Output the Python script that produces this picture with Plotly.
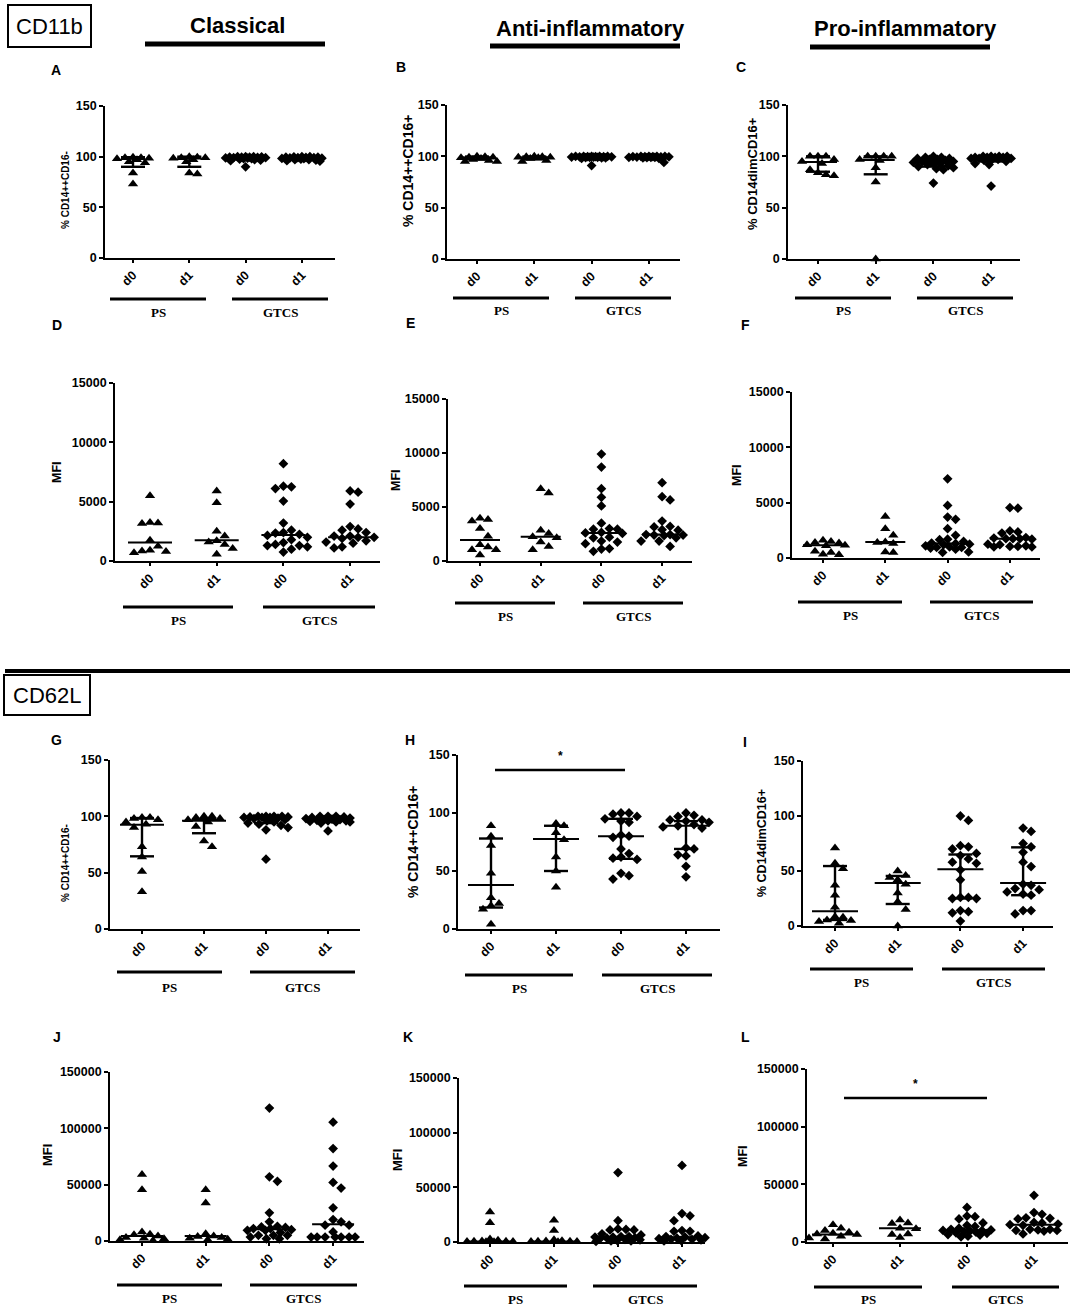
import numpy as np
import plotly.graph_objects as go

W, H = 1074, 1309

CATS = ["d0", "d1", "d0", "d1"]
GROUPS = ["PS", "GTCS"]

# ---------------- data ----------------
A_PS_D0 = [99.5, 99, 99, 98.5, 98, 97, 95, 94, 84, 73]
A_PS_D1 = [100, 99.5, 99, 99, 98.5, 97, 95, 84, 83]
A_GTCS_D0 = [100, 100, 100, 99.8, 99.6, 99.5, 99.5, 99.3, 99, 99, 98.8, 98.5, 98, 98, 97.5, 97, 96.5, 96, 90]
A_GTCS_D1 = [100, 100, 99.8, 99.5, 99.5, 99.2, 99, 99, 98.8, 98.5, 98.2, 98, 97.5, 97, 97, 96.5, 96, 95.5]
A_MED = [98, 99, 99, 99]
A_Q1 = [90, 90, 97.5, 97.5]
A_Q3 = [99.5, 100, 99.8, 99.8]

B_PS_D0 = [100, 99.5, 99, 99, 98.5, 98, 97, 96, 95, 95]
B_PS_D1 = [100, 99.5, 99.5, 99, 99, 98.5, 98, 96, 95]
B_GTCS_D0 = [100, 100, 100, 100, 100, 99.8, 99.8, 99.6, 99.5, 99.5, 99.3, 99.2, 99, 99, 98.8, 98.5, 98.5, 98, 91]
B_GTCS_D1 = [100, 100, 100, 100, 99.8, 99.8, 99.6, 99.5, 99.5, 99.3, 99, 99, 99, 98.8, 98.5, 98, 94]
B_MED = [99, 99, 99.5, 99.5]
B_Q1 = [97, 97, 99, 99]
B_Q3 = [99.8, 99.8, 100, 100]

C_PS_D0 = [100, 100, 100, 97, 95, 93, 87, 84, 82, 81]
C_PS_D1 = [100, 100, 100, 100, 97, 96, 89, 75, 0]
C_GTCS_D0 = [100, 99, 99, 98, 98, 97, 97, 96, 95, 95, 94, 93, 93, 92, 91, 90, 89, 88, 87, 74]
C_GTCS_D1 = [100, 100, 100, 100, 99, 99, 99, 99, 98, 98, 98, 97, 97, 96, 95, 93, 92, 71]
C_MED = [94.5, 96.5, 94, 98]
C_Q1 = [85, 82.5, 90, 95]
C_Q3 = [100, 100, 97.5, 99.5]

D_PS_D0 = [5500, 3250, 3150, 3200, 1750, 1250, 800, 850, 900, 700]
D_PS_D1 = [5900, 4900, 2500, 2100, 1700, 1600, 1400, 1050, 560]
D_GTCS_D0 = [8200, 6300, 6250, 6100, 5050, 3200, 2600, 2400, 2350, 2250, 2150, 2000, 1800, 1550, 1400, 1300, 1300, 1200, 1000, 750]
D_GTCS_D1 = [5900, 5800, 4800, 2900, 2700, 2600, 2400, 2100, 2100, 2000, 2000, 1900, 1700, 1600, 1500, 1200, 1100]
D_MED = [1550, 1750, 2200, 2000]

E_PS_D0 = [3950, 3850, 3700, 3000, 2300, 1500, 1300, 1050, 1050, 550]
E_PS_D1 = [6700, 6300, 2850, 2550, 2250, 2150, 1750, 1350, 1050]
E_GTCS_D0 = [9900, 8700, 6700, 5900, 5100, 3500, 3000, 2950, 2950, 2650, 2600, 2550, 2200, 2150, 1850, 1750, 1600, 1150, 1100, 900]
E_GTCS_D1 = [7250, 5950, 5650, 3700, 3200, 3150, 2900, 2850, 2450, 2450, 2400, 2400, 2350, 2150, 1850, 1850, 1350]
E_MED = [1950, 2250, 2600, 2450]

F_PS_D0 = [1600, 1500, 1400, 1350, 1200, 1150, 1100, 600, 500, 350, 300]
F_PS_D1 = [3750, 2650, 2050, 1450, 1400, 1300, 550, 500]
F_GTCS_D0 = [7150, 4750, 3700, 3500, 2650, 2050, 1700, 1650, 1500, 1350, 1300, 1250, 1200, 1100, 1000, 950, 950, 900, 800, 550, 500]
F_GTCS_D1 = [4550, 4500, 2450, 2350, 2250, 1850, 1800, 1750, 1750, 1750, 1700, 1250, 1200, 1100, 1050, 1050, 1000, 1000]
F_MED = [1150, 1450, 1300, 1750]

G_PS_D0 = [99, 99, 98, 97, 95, 93, 90, 73, 64, 51, 33]
G_PS_D1 = [100, 100, 99, 98, 97, 95, 91, 78, 73]
G_GTCS_D0 = [100, 100, 100, 100, 99.5, 99.5, 99, 99, 99, 98.5, 98, 97, 96, 95, 94, 93, 92, 90, 88, 62]
G_GTCS_D1 = [100, 100, 100, 99.5, 99, 98.5, 98, 97.5, 97, 97, 96.5, 96, 96, 95.5, 95, 95, 94, 87]
G_MED = [92.5, 96, 99, 97]
G_Q1 = [64.5, 85, 94, 95]
G_Q3 = [98.5, 97.5, 100, 99.5]

H_PS_D0 = [89, 80, 72, 48, 27, 22, 20, 17, 4]
H_PS_D1 = [91, 89, 83, 77, 62, 50, 36]
H_GTCS_D0 = [100, 100, 99, 97, 95, 93, 92, 81, 80, 79, 69, 65, 62, 61, 60, 48, 46, 43]
H_GTCS_D1 = [100, 98, 97, 94, 94, 93, 92, 90, 89, 88, 87, 70, 69, 64, 63, 54, 45]
H_MED = [38, 77.5, 80, 89]
H_Q1 = [18.5, 50, 60.5, 69]
H_Q3 = [78, 89, 95, 93]

I_PS_D0 = [71, 57, 52, 37, 28, 17, 8.5, 8, 5.5, 5, 4, 2.5]
I_PS_D1 = [50, 46, 44, 42, 38, 30, 22, 15, 0]
I_GTCS_D0 = [100, 96, 73, 72, 70, 66, 64, 61, 58, 57, 51, 42, 26, 26, 25, 25, 14, 13, 12, 4.5]
I_GTCS_D1 = [89, 86, 75, 72, 67, 58, 54, 38, 37, 34, 33, 31, 29, 28, 14, 14, 11]
I_MED = [13.5, 39, 51.5, 39]
I_Q1 = [5.5, 20, 25, 28]
I_Q3 = [54.5, 45.5, 65, 71.5]

J_PS_D0 = [59000, 45500, 8000, 6000, 5500, 4500, 3000, 2500, 2000, 1000, 500]
J_PS_D1 = [45500, 33700, 6500, 4500, 4000, 3000, 2500, 1500, 1000]
J_GTCS_D0 = [118000, 57000, 53000, 25000, 17000, 13000, 12500, 12000, 11000, 11000, 10000, 9500, 9500, 7500, 5000, 5000, 5000, 3500, 2000, 2000]
J_GTCS_D1 = [105500, 82000, 66500, 52000, 47000, 29500, 19000, 17000, 14000, 14000, 8000, 3500, 3500, 3500, 3500, 3500, 3500, 3500]
J_MED = [4400, 4400, 10400, 14800]

K_PS_D0 = [27500, 17500, 2700, 1500, 1000, 700, 600, 500, 400, 300, 200]
K_PS_D1 = [20000, 10500, 2000, 1200, 900, 700, 600, 500, 400, 300]
K_GTCS_D0 = [63500, 19500, 12000, 11500, 11000, 11000, 7500, 6500, 5000, 5000, 4500, 4500, 4000, 3500, 3000, 2500, 2000, 1500, 1000, 1000, 500]
K_GTCS_D1 = [70000, 26000, 24000, 19500, 10500, 9800, 9800, 5500, 5000, 4500, 4000, 3500, 3000, 2500, 2500, 2000, 1500, 1000]
K_MED = [500, 500, 4500, 4300]

L_PS_D0 = [15000, 12000, 10000, 8500, 7500, 7000, 6500, 5000, 3500, 2500]
L_PS_D1 = [19000, 16500, 16000, 12000, 11500, 7000, 6500, 4000]
L_GTCS_D0 = [30000, 22500, 22000, 20000, 16500, 14500, 13500, 12000, 11000, 10500, 10000, 10000, 9500, 9000, 8500, 8000, 7500, 6500, 6000, 5000, 4500]
L_GTCS_D1 = [40500, 25500, 24000, 21000, 20500, 20000, 17000, 16500, 15500, 15000, 14500, 11000, 11000, 10500, 10000, 10000, 9500, 7000]
L_MED = [6600, 12000, 10100, 15000]

PCT_TICKS = [0, 50, 100, 150]
MFI15K_TICKS = [0, 5000, 10000, 15000]
MFI150K_TICKS = [0, 50000, 100000, 150000]

DATA = {
    "A": ([A_PS_D0, A_PS_D1, A_GTCS_D0, A_GTCS_D1], A_MED, A_Q1, A_Q3),
    "B": ([B_PS_D0, B_PS_D1, B_GTCS_D0, B_GTCS_D1], B_MED, B_Q1, B_Q3),
    "C": ([C_PS_D0, C_PS_D1, C_GTCS_D0, C_GTCS_D1], C_MED, C_Q1, C_Q3),
    "D": ([D_PS_D0, D_PS_D1, D_GTCS_D0, D_GTCS_D1], D_MED, None, None),
    "E": ([E_PS_D0, E_PS_D1, E_GTCS_D0, E_GTCS_D1], E_MED, None, None),
    "F": ([F_PS_D0, F_PS_D1, F_GTCS_D0, F_GTCS_D1], F_MED, None, None),
    "G": ([G_PS_D0, G_PS_D1, G_GTCS_D0, G_GTCS_D1], G_MED, G_Q1, G_Q3),
    "H": ([H_PS_D0, H_PS_D1, H_GTCS_D0, H_GTCS_D1], H_MED, H_Q1, H_Q3),
    "I": ([I_PS_D0, I_PS_D1, I_GTCS_D0, I_GTCS_D1], I_MED, I_Q1, I_Q3),
    "J": ([J_PS_D0, J_PS_D1, J_GTCS_D0, J_GTCS_D1], J_MED, None, None),
    "K": ([K_PS_D0, K_PS_D1, K_GTCS_D0, K_GTCS_D1], K_MED, None, None),
    "L": ([L_PS_D0, L_PS_D1, L_GTCS_D0, L_GTCS_D1], L_MED, None, None),
}

# ---------------- layout (pixel geometry) ----------------
P = {
    "A": dict(ax=105, top=106, bot=258, c0=133, s=56.3, right=335, ymax=150, ticks=PCT_TICKS,
              yt="% CD14++CD16-", tx=65, ty=190, tfs=10, gl=[(110, 206), (232, 328)], gy=299, ly=312,
              let=(56, 70), mhw=12),
    "B": dict(ax=447, top=105, bot=259, c0=477, s=57.3, right=680, ymax=150, ticks=PCT_TICKS,
              yt="% CD14++CD16+", tx=408, ty=171, tfs=14, gl=[(453, 549), (575, 671)], gy=298, ly=310,
              let=(401, 67), mhw=14),
    "C": dict(ax=788, top=105, bot=259, c0=818, s=57.7, right=1020, ymax=150, ticks=PCT_TICKS,
              yt="% CD14dimCD16+", tx=752, ty=174, tfs=13, gl=[(795, 891), (917, 1013)], gy=298, ly=310,
              let=(741, 67), mhw=19),
    "D": dict(ax=115, top=383, bot=561, c0=150, s=66.7, right=380, ymax=15000, ticks=MFI15K_TICKS,
              yt="MFI", tx=57, ty=472, tfs=12.5, gl=[(123, 233), (263, 375)], gy=607, ly=621,
              let=(57, 325), mhw=22),
    "E": dict(ax=448, top=399, bot=561, c0=480, s=60.7, right=692, ymax=15000, ticks=MFI15K_TICKS,
              yt="MFI", tx=396, ty=480, tfs=12.5, gl=[(455, 555), (583, 683)], gy=603, ly=616,
              let=(410, 323), mhw=20),
    "F": dict(ax=792, top=392, bot=558, c0=823, s=62.3, right=1040, ymax=15000, ticks=MFI15K_TICKS,
              yt="MFI", tx=737, ty=475, tfs=12.5, gl=[(798, 902), (930, 1033)], gy=602, ly=615,
              let=(745, 325), mhw=20),
    "G": dict(ax=110, top=760, bot=929, c0=142, s=62.0, right=360, ymax=150, ticks=PCT_TICKS,
              yt="% CD14++CD16-", tx=65, ty=863, tfs=10, gl=[(117, 222), (250, 355)], gy=972, ly=987,
              let=(56, 740), mhw=22),
    "H": dict(ax=458, top=755, bot=929, c0=491, s=65.0, right=720, ymax=150, ticks=PCT_TICKS,
              yt="% CD14++CD16+", tx=413, ty=842, tfs=14, gl=[(465, 573), (602, 712)], gy=975, ly=988,
              let=(410, 740), mhw=23),
    "I": dict(ax=803, top=761, bot=926, c0=835, s=62.7, right=1053, ymax=150, ticks=PCT_TICKS,
              yt="% CD14dimCD16+", tx=762, ty=843, tfs=12.5, gl=[(810, 913), (942, 1045)], gy=969, ly=983,
              let=(745, 742), mhw=23),
    "J": dict(ax=110, top=1072, bot=1241, c0=142, s=63.7, right=364, ymax=150000, ticks=MFI150K_TICKS,
              yt="MFI", tx=47, ty=1155, tfs=13, gl=[(117, 222), (250, 357)], gy=1285, ly=1298,
              let=(57, 1037), mhw=21),
    "K": dict(ax=459, top=1078, bot=1242, c0=490, s=64.0, right=705, ymax=150000, ticks=MFI150K_TICKS,
              yt="MFI", tx=397, ty=1160, tfs=13, gl=[(464, 567), (593, 697)], gy=1286, ly=1299,
              let=(408, 1037), mhw=21),
    "L": dict(ax=807, top=1069, bot=1242, c0=833, s=67.0, right=1068, ymax=150000, ticks=MFI150K_TICKS,
              yt="MFI", tx=743, ty=1156, tfs=12.5, gl=[(814, 922), (952, 1059)], gy=1287, ly=1299,
              let=(745, 1037), mhw=21),
}

SIG = {"H": (495, 625, 770), "L": (844, 987, 1098)}

SECTIONS = [("Classical", 237, 25, 145, 325, 44),
            ("Anti-inflammatory", 590, 29, 490, 680, 46),
            ("Pro-inflammatory", 905, 29, 810, 990, 47)]


def fx(p):
    return p / W


def fy(p):
    return 1 - p / H


def swarm(vals, ypu, diam, wmax):
    vals = np.asarray(vals, float)
    ys = vals * ypu
    order = np.argsort(-vals, kind="stable")
    px_, py_ = [], []
    off = np.zeros(len(vals))

    def mind(c, y):
        if not px_:
            return 1e9
        return float(np.min(np.hypot(np.array(px_) - c, np.array(py_) - y)))

    fine = [0.0]
    for c in np.arange(1.0, wmax + 0.01, 1.0):
        fine += [c, -c]
    for i in order:
        y = ys[i]
        chosen = None
        k = 0
        while k * diam <= wmax + 0.01:
            for c in ([0.0] if k == 0 else [k * diam, -k * diam]):
                if mind(c, y) >= diam * 0.98:
                    chosen = c
                    break
            if chosen is not None:
                break
            k += 1
        if chosen is None:
            best, bd = 0.0, -1.0
            for c in fine:
                d = mind(c, y)
                if d > bd + 1e-9:
                    best, bd = c, d
            chosen = best
        off[i] = chosen
        px_.append(chosen)
        py_.append(y)
    return off


fig = go.Figure()
layout = {}
annotations = []
shapes = []
TICKFONT = dict(family="Liberation Sans, Arial", size=12.5, color="black", weight="bold")

for n, letter in enumerate(P):
    p = P[letter]
    groups, med, q1, q3 = DATA[letter]
    xa = "xaxis" if n == 0 else f"xaxis{n + 1}"
    ya = "yaxis" if n == 0 else f"yaxis{n + 1}"
    xr = "x" if n == 0 else f"x{n + 1}"
    yr = "y" if n == 0 else f"y{n + 1}"
    s = p["s"]
    ypu = (p["bot"] - p["top"]) / p["ymax"]
    xlo = (p["ax"] - p["c0"]) / s
    xhi = (p["right"] - p["c0"]) / s

    layout[xa] = dict(domain=[fx(p["ax"]), fx(p["right"])], range=[xlo, xhi], anchor=yr,
                      tickvals=[0, 1, 2, 3], ticktext=CATS, tickangle=-45, showline=True,
                      linecolor="black", linewidth=1.8, ticks="outside", ticklen=3, tickwidth=1.5,
                      tickcolor="black", tickfont=TICKFONT, showgrid=False, zeroline=False,
                      fixedrange=True, automargin=False)
    layout[ya] = dict(domain=[fy(p["bot"]), fy(p["top"])], range=[0, p["ymax"]], anchor=xr,
                      tickvals=p["ticks"], ticktext=[str(t) for t in p["ticks"]], showline=True,
                      linecolor="black", linewidth=1.8, ticks="outside", ticklen=4, tickwidth=1.6,
                      tickcolor="black", tickfont=TICKFONT, showgrid=False, zeroline=False,
                      fixedrange=True, automargin=False)

    wmax = 0.36 * s
    for i, vals in enumerate(groups):
        sym = "triangle-up" if i < 2 else "diamond"
        offs = swarm(vals, ypu, 8.0, wmax) / s
        fig.add_trace(go.Scatter(x=i + offs, y=vals, mode="markers", xaxis=xr, yaxis=yr,
                                 marker=dict(symbol=sym, size=9 if i < 2 else 7.5, color="black",
                                             line=dict(width=0)),
                                 cliponaxis=False, showlegend=False, hoverinfo="y"))

    hw = p["mhw"] / s
    mx, my = [], []
    for i, m in enumerate(med):
        mx += [i - hw, i + hw, None]
        my += [m, m, None]
    fig.add_trace(go.Scatter(x=mx, y=my, mode="lines", xaxis=xr, yaxis=yr,
                             line=dict(color="black", width=2), showlegend=False, hoverinfo="skip"))
    if q1 is not None:
        cw = 12 / s
        ex, ey = [], []
        for i in range(4):
            ex += [i, i, None, i - cw, i + cw, None, i - cw, i + cw, None]
            ey += [q1[i], q3[i], None, q1[i], q1[i], None, q3[i], q3[i], None]
        fig.add_trace(go.Scatter(x=ex, y=ey, mode="lines", xaxis=xr, yaxis=yr,
                                 line=dict(color="black", width=2.4), showlegend=False,
                                 hoverinfo="skip"))

    annotations.append(dict(x=fx(p["tx"]), y=fy(p["ty"]), xref="paper", yref="paper",
                            text=f"<b>{p['yt']}</b>", textangle=-90, showarrow=False,
                            font=dict(family="Liberation Sans, Arial", size=p["tfs"], color="black"),
                            xanchor="center", yanchor="middle"))
    annotations.append(dict(x=fx(p["let"][0]), y=fy(p["let"][1]), xref="paper", yref="paper",
                            text=f"<b>{letter}</b>", showarrow=False,
                            font=dict(family="Liberation Sans, Arial", size=14, color="black"),
                            xanchor="center", yanchor="middle"))
    for (gx0, gx1), g in zip(p["gl"], GROUPS):
        shapes.append(dict(type="line", xref="paper", yref="paper", x0=fx(gx0), x1=fx(gx1),
                           y0=fy(p["gy"]), y1=fy(p["gy"]), line=dict(color="black", width=3)))
        annotations.append(dict(x=fx((gx0 + gx1) / 2), y=fy(p["ly"]), xref="paper", yref="paper",
                                text=f"<b>{g}</b>", showarrow=False,
                                font=dict(family="Liberation Serif, Times New Roman", size=13,
                                          color="black"),
                                xanchor="center", yanchor="middle"))

for k, (x0, x1, yy) in SIG.items():
    shapes.append(dict(type="line", xref="paper", yref="paper", x0=fx(x0), x1=fx(x1),
                       y0=fy(yy), y1=fy(yy), line=dict(color="black", width=2.5)))
    annotations.append(dict(x=fx((x0 + x1) / 2), y=fy(yy - 5), xref="paper", yref="paper",
                            text="<b>*</b>", showarrow=False,
                            font=dict(family="Liberation Sans, Arial", size=12, color="black"),
                            xanchor="center", yanchor="bottom"))

for txt, cx, cy, lx0, lx1, ly in SECTIONS:
    annotations.append(dict(x=fx(cx), y=fy(cy), xref="paper", yref="paper",
                            text=f"<b>{txt}</b>", showarrow=False,
                            font=dict(family="Liberation Sans, Arial", size=22, color="black"),
                            xanchor="center", yanchor="middle"))
    shapes.append(dict(type="line", xref="paper", yref="paper", x0=fx(lx0), x1=fx(lx1),
                       y0=fy(ly), y1=fy(ly), line=dict(color="black", width=5)))

for txt, x0, y0, x1, y1 in [("CD11b", 8, 5, 91, 47), ("CD62L", 4, 675, 90, 715)]:
    shapes.append(dict(type="rect", xref="paper", yref="paper", x0=fx(x0), x1=fx(x1),
                       y0=fy(y1), y1=fy(y0), line=dict(color="black", width=2)))
    annotations.append(dict(x=fx((x0 + x1) / 2), y=fy((y0 + y1) / 2), xref="paper", yref="paper",
                            text=txt, showarrow=False,
                            font=dict(family="Liberation Sans, Arial", size=22, color="black"),
                            xanchor="center", yanchor="middle"))

shapes.append(dict(type="line", xref="paper", yref="paper", x0=fx(5), x1=fx(1070),
                   y0=fy(671), y1=fy(671), line=dict(color="black", width=4)))

fig.update_layout(template="none", width=W, height=H, autosize=False,
                  margin=dict(l=0, r=0, t=0, b=0, pad=0),
                  paper_bgcolor="white", plot_bgcolor="white", showlegend=False,
                  annotations=annotations, shapes=shapes, **layout)

fig.write_html("out.html",
               config={"displayModeBar": False, "responsive": False},
               default_width=f"{W}px", default_height=f"{H}px",
               post_script="document.body.style.margin='0px';document.body.style.padding='0px';"
                           "document.body.style.overflow='hidden';")
